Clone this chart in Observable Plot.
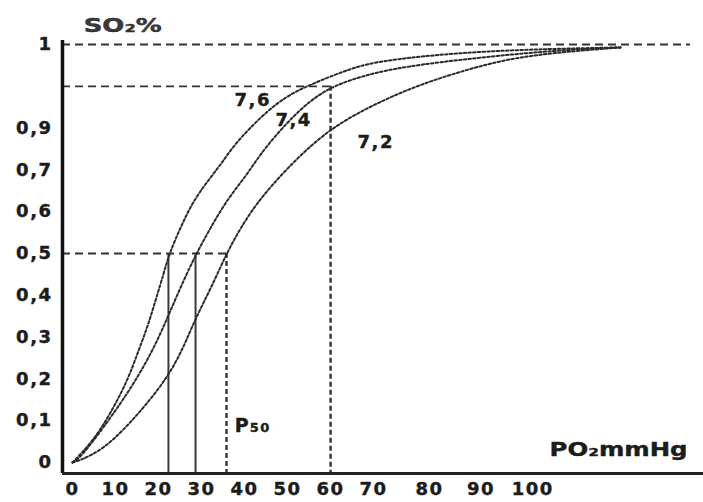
<!DOCTYPE html>
<html>
<head>
<meta charset="utf-8">
<script src="https://cdn.jsdelivr.net/npm/d3@7"></script>
<script src="https://cdn.jsdelivr.net/npm/@observablehq/plot@0.6"></script>
<style>
  html, body { margin: 0; padding: 0; background: #fff; }
  #chart svg { font-family: "DejaVu Sans", sans-serif; }
</style>
</head>
<body>
<div id="chart"></div>
<script>
// ---- data ----
const xTickLabels = ["0","10","20","30","40","50","60","70","80","90","100"];
const xTickPositions = [0,10,20,30,40,50,60,70,83,95,107];
const yTickValues = [0,0.1,0.2,0.3,0.4,0.5,0.6,0.7,0.8,1];
const yTickLabels = ["0","0,1","0,2","0,3","0,4","0,5","0,6","0,7","0,9","1"];

const pH = ["7,6","7,4","7,2"];
const po2_76 = [0, 4.9, 8.8, 12.8, 15.1, 17.4, 19.3, 21.2, 22.5, 25.1, 28.1, 32.1, 35.1, 38.4, 47.7, 54.7, 64.7, 71.6, 94.9, 127.4];
const so2_76 = [0, 0.053, 0.117, 0.196, 0.261, 0.323, 0.388, 0.452, 0.5, 0.562, 0.627, 0.682, 0.722, 0.772, 0.866, 0.902, 0.943, 0.962, 0.986, 0.993];
const po2_74 = [0, 1.9, 7.2, 12.8, 17.4, 20.5, 22.8, 25.8, 28.8, 32.1, 36.0, 40.7, 44.4, 53.0, 60, 68.6, 76.3, 94.9, 115.1, 127.4];
const so2_74 = [0, 0.012, 0.084, 0.165, 0.244, 0.309, 0.364, 0.435, 0.5, 0.562, 0.63, 0.69, 0.75, 0.849, 0.9, 0.928, 0.946, 0.970, 0.988, 0.993];
const po2_72 = [0, 2, 7.2, 12.8, 17.4, 22.3, 25.8, 28.6, 32.1, 35.8, 39.1, 43.7, 52.3, 60, 68.6, 76.3, 83.3, 94.9, 106.5, 127.4];
const so2_72 = [0, 0.006, 0.032, 0.088, 0.142, 0.207, 0.275, 0.345, 0.415, 0.5, 0.562, 0.634, 0.730, 0.799, 0.849, 0.885, 0.913, 0.950, 0.976, 0.993];

const p50 = [22.3, 28.6, 35.8];        // P50 of pH 7.6, 7.4, 7.2
const sat90PO2 = 60;                   // PO2 where pH 7.4 reaches 0.9
const labelX = [41.9, 51.4, 70.5];
const labelY = [0.866, 0.818, 0.766];

// ---- build tables ----
const curves = [
  ...po2_76.map((x, i) => ({pH: pH[0], x, y: so2_76[i]})),
  ...po2_74.map((x, i) => ({pH: pH[1], x, y: so2_74[i]})),
  ...po2_72.map((x, i) => ({pH: pH[2], x, y: so2_72[i]}))
];
const labels = pH.map((t, i) => ({t, x: labelX[i], y: labelY[i]}));

const xMin = -2.33, xMax = 146.7;
const yMin = -0.0263, yMax = 1.0096;

const ink = "#1c1c1c";
const chart = Plot.plot({
  width: 703,
  height: 502,
  marginTop: 40,
  marginBottom: 29,
  marginLeft: 62,
  marginRight: 0,
  style: {fontFamily: "DejaVu Sans, sans-serif", background: "#fff"},
  x: {domain: [xMin, xMax]},
  y: {domain: [yMin, yMax]},
  marks: [
    // reference dashed horizontals
    Plot.ruleY([{y: 1, x2: 143.7}, {y: 0.9, x2: sat90PO2}, {y: 0.5, x2: p50[2]}],
      {y: "y", x1: xMin, x2: "x2", stroke: "#333", strokeWidth: 1.8, strokeDasharray: "8,5"}),
    // solid verticals at P50 of 7.6 and 7.4
    Plot.ruleX(p50.slice(0, 2), {x: d => d, y1: 0.5, y2: yMin, stroke: "#3a3a3a", strokeWidth: 2}),
    // dashed verticals
    Plot.ruleX([{x: p50[2], y: 0.5}, {x: sat90PO2, y: 0.9}],
      {x: "x", y1: "y", y2: yMin, stroke: "#333", strokeWidth: 2.4, strokeDasharray: "5,3"}),
    // dissociation curves
    Plot.line(curves, {x: "x", y: "y", z: "pH", curve: "basis",
      stroke: "#2a2a2a", strokeWidth: 2, strokeDasharray: "2.5,2.2"}),
    // axes lines
    Plot.ruleX([xMin], {y1: yMin, y2: yMax, stroke: "#111", strokeWidth: 3.5}),
    Plot.ruleY([yMin], {x1: xMin, x2: xMax, stroke: "#222", strokeWidth: 3}),
    Plot.axisY({ticks: yTickValues, tickFormat: d => yTickLabels[yTickValues.indexOf(d)],
      tickSize: 0, tickPadding: 10, fontSize: 18, fontWeight: "bold", fill: ink, label: null}),
    Plot.axisX({ticks: xTickPositions, tickFormat: d => xTickLabels[xTickPositions.indexOf(d)],
      tickSize: 0, tickPadding: 9, fontSize: 18, fontWeight: "bold", fill: ink, label: null}),
    // pH labels
    Plot.text(labels, {x: "x", y: "y", text: "t", fontSize: 18, fontWeight: "bold", fill: ink}),
    // titles
    Plot.text(["SO₂%"], {x: 2.6, y: 1.045, text: d => d, textAnchor: "start", fontSize: 19, fontWeight: "bold", fill: "#3a3a3a", className: "stretch-so2"}),
    Plot.text(["PO₂mmHg"], {x: 143, y: 0.031, text: d => d, textAnchor: "end", fontSize: 19, fontWeight: "bold", fill: ink, className: "stretch-po2"}),
    Plot.text(["P"], {x: 37.7, y: 0.0885, text: d => d, textAnchor: "start", fontSize: 19, fontWeight: "bold", fill: ink}),
    Plot.text(["50"], {x: 41.2, y: 0.083, text: d => d, textAnchor: "start", fontSize: 13, fontWeight: "bold", fill: ink})
  ]
});
document.getElementById("chart").appendChild(chart);
const svg = d3.select(chart);
svg.selectAll("text").style("letter-spacing", "1.5px");
svg.selectAll("g[aria-label='text'] text, g[aria-label='y-axis tick label'] text, g[aria-label='x-axis tick label'] text")
  .style("stroke", ink).style("stroke-width", "0.4px");
svg.selectAll(".stretch-so2 text").style("letter-spacing", null)
  .attr("textLength", 78).attr("lengthAdjust", "spacingAndGlyphs");
svg.selectAll(".stretch-po2 text").style("letter-spacing", null)
  .attr("textLength", 138).attr("lengthAdjust", "spacingAndGlyphs");
</script>
</body>
</html>
